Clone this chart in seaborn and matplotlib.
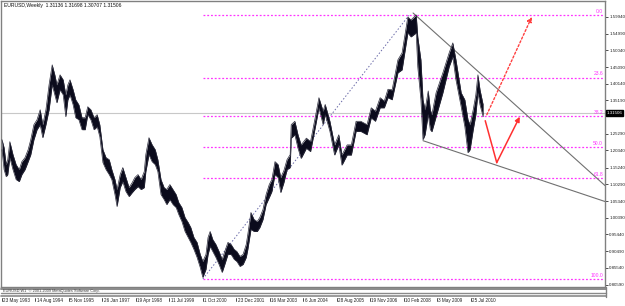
import matplotlib
matplotlib.use("Agg")
import matplotlib.pyplot as plt
import seaborn as sns
import pandas as pd
from matplotlib.lines import Line2D

# ---------------- data ----------------
weeks = [0, 4, 8, 11, 15, 21, 27, 33, 38, 44, 50, 55, 61, 67, 73, 78, 84, 90, 96, 101,
         105, 111, 117, 122, 126, 130, 136, 141, 147, 153, 159, 164, 170, 176, 182, 187,
         193, 199, 205, 210, 216, 220, 226, 231, 237, 243, 249, 254, 260, 266, 272, 275,
         281, 287, 293, 298, 304, 310, 315, 321, 327, 333, 338, 344, 350, 356, 361, 367,
         373, 379, 384, 390, 394, 398, 403, 409, 415, 421, 426, 432, 438, 444, 449, 455,
         461, 467, 470, 476, 482, 488, 493, 499, 505, 511, 516, 522, 528, 533, 539, 545,
         551, 553, 560, 566, 572, 582, 590, 600, 606, 614, 618, 627, 636, 644, 650, 660,
         668, 677, 686, 698, 706, 714, 723, 731, 738, 746, 757, 765, 776, 782, 792, 795,
         801, 805, 809, 815, 819, 822, 830, 843, 855, 862, 868, 878, 885, 891, 895, 901,
         906, 910, 914, 920]
high = [1.2355, 1.2118, 1.1615, 1.1763, 1.2296, 1.1911, 1.1615, 1.1467, 1.1704, 1.1822,
        1.2059, 1.2355, 1.2799, 1.2947, 1.3242, 1.2799, 1.3242, 1.3982, 1.4574, 1.4278,
        1.3982, 1.4278, 1.4130, 1.3686, 1.3982, 1.4130, 1.3834, 1.3538, 1.3390, 1.3006,
        1.3006, 1.3331, 1.3242, 1.3006, 1.3095, 1.2799, 1.2059, 1.1822, 1.1763, 1.1467,
        1.1172, 1.0876, 1.1320, 1.1527, 1.1231, 1.0935, 1.1083, 1.1231, 1.1320, 1.1172,
        1.1408, 1.1911, 1.2414, 1.2207, 1.2059, 1.1763, 1.1172, 1.0935, 1.0876, 1.1024,
        1.0876, 1.0728, 1.0491, 1.0343, 1.0047, 0.9899, 0.9751, 0.9456, 0.9308, 0.8953,
        0.8745, 0.8953, 0.9456, 0.9633, 0.9396, 0.9249, 0.9041, 0.8805, 0.9041, 0.9308,
        0.9249, 0.9101, 0.9041, 0.8893, 0.8953, 0.9249, 0.9544, 1.0195, 0.9988, 0.9929,
        1.0047, 1.0284, 1.0728, 1.1024, 1.1172, 1.1704, 1.1615, 1.1231, 1.1437, 1.1763,
        1.1911, 1.2800, 1.2900, 1.2500, 1.2200, 1.2400, 1.2300, 1.3100, 1.3600, 1.3200,
        1.3400, 1.2900, 1.2200, 1.2500, 1.1900, 1.2200, 1.2200, 1.2900, 1.2900, 1.2800,
        1.3300, 1.3200, 1.3600, 1.3500, 1.3850, 1.3834, 1.4722, 1.4929, 1.5994, 1.5905,
        1.6053, 1.5402, 1.4722, 1.3538, 1.3242, 1.3800, 1.3242, 1.3095, 1.3745, 1.4337,
        1.4929, 1.5225, 1.4722, 1.3745, 1.3538, 1.2947, 1.2799, 1.3242, 1.3686, 1.4278,
        1.3834, 1.3390]
low = [1.2059, 1.1467, 1.1260, 1.1320, 1.1822, 1.1467, 1.1172, 1.1112, 1.1320, 1.1467,
       1.1704, 1.1911, 1.2355, 1.2651, 1.2799, 1.2414, 1.2799, 1.3242, 1.3982, 1.3686,
       1.3450, 1.3834, 1.3686, 1.3035, 1.3538, 1.3686, 1.3390, 1.3006, 1.2947, 1.2651,
       1.2651, 1.3095, 1.2947, 1.2651, 1.2740, 1.2444, 1.1674, 1.1467, 1.1320, 1.1172,
       1.0728, 1.0373, 1.0935, 1.1112, 1.0816, 1.0669, 1.0787, 1.0876, 1.0964, 1.0876,
       1.0935, 1.1408, 1.1911, 1.1704, 1.1615, 1.1408, 1.0728, 1.0580, 1.0432, 1.0580,
       1.0432, 1.0343, 1.0136, 0.9929, 0.9633, 0.9456, 0.9308, 0.9101, 0.8864, 0.8568,
       0.8272, 0.8509, 0.8953, 0.9189, 0.9041, 0.8864, 0.8657, 0.8420, 0.8657, 0.8953,
       0.8953, 0.8805, 0.8745, 0.8597, 0.8657, 0.8864, 0.9101, 0.9692, 0.9633, 0.9633,
       0.9751, 0.9988, 1.0432, 1.0639, 1.0816, 1.1320, 1.1231, 1.0787, 1.1083, 1.1467,
       1.1527, 1.2400, 1.2500, 1.2100, 1.1800, 1.2100, 1.2000, 1.2800, 1.3300, 1.2800,
       1.3100, 1.2600, 1.1900, 1.2200, 1.1600, 1.1900, 1.1900, 1.2600, 1.2600, 1.2500,
       1.3000, 1.2900, 1.3300, 1.3300, 1.3600, 1.3538, 1.4337, 1.4426, 1.5521, 1.5402,
       1.5521, 1.4515, 1.3538, 1.2355, 1.2503, 1.3100, 1.2651, 1.2592, 1.3035, 1.3745,
       1.4515, 1.4811, 1.4130, 1.3331, 1.2740, 1.1970, 1.2059, 1.2651, 1.3095, 1.3745,
       1.3390, 1.3035]

date_labels = ["23 May 1993", "14 Aug 1994", "5 Nov 1995", "26 Jan 1997", "19 Apr 1998",
               "11 Jul 1999", "1 Oct 2000", "23 Dec 2001", "16 Mar 2003", "6 Jun 2004",
               "28 Aug 2005", "19 Nov 2006", "10 Feb 2008", "3 May 2009", "25 Jul 2010"]
date_weeks = [0, 64, 128, 192, 256, 320, 384, 448, 512, 576, 640, 704, 768, 832, 896]

price_ticks = [1.59940, 1.54990, 1.50040, 1.45090, 1.40140, 1.35190, 1.25290, 1.20340,
               1.15240, 1.10290, 1.05340, 1.00390, 0.95440, 0.90490, 0.85540, 0.80590]
price_tick_labels = ["1.59940", "1.54990", "1.50040", "1.45090", "1.40140", "1.35190",
                     "1.25290", "1.20340", "1.15240", "1.10290", "1.05340", "1.00390",
                     "0.95440", "0.90490", "0.85540", "0.80590"]
last_price = 1.31506
title_text = "EURUSD,Weekly  1.31136 1.31698 1.30707 1.31506"

fib_levels = [0.0, 23.6, 38.2, 50.0, 61.8, 100.0]
fib_high, fib_low = 1.6038, 0.8225
fib_low_week, fib_high_week = 384, 778

upper_line_weeks, upper_line_prices = [786, 1153], [1.6112, 1.0994]
lower_line_weeks, lower_line_prices = [805, 1153], [1.2325, 1.0521]
red_solid_weeks, red_solid_prices = [924, 946, 990], [1.2917, 1.1674, 1.3035]
red_dot_weeks, red_dot_prices = [927, 1013], [1.3095, 1.5994]

# ---------------- figure ----------------
sns.set_style("white")
plt.rcParams['font.family'] = ['Liberation Sans', 'DejaVu Sans']
W, H = 625, 306
fig = plt.figure(figsize=(W / 100, H / 100), dpi=100)
fig.patch.set_facecolor("white")

def fx(px):
    return px / W

def fy(py):
    return 1 - py / H

ax = fig.add_axes([fx(1), fy(287), fx(604), 286 / H])
ax.set_facecolor("white")

df = pd.DataFrame({"week": weeks, "high": high, "low": low})
bar_col = "#0b0b1c"
ax.fill_between(df["week"], df["low"], df["high"], color=bar_col, lw=0, zorder=3)
sns.lineplot(data=df, x="week", y="high", ax=ax, color="#2a2a3a", lw=0.5, zorder=3)
sns.lineplot(data=df, x="week", y="low", ax=ax, color="#2a2a3a", lw=0.5, zorder=3)

ax.set_xlim(-1.9, 1153)
ax.set_ylim(0.7986, 1.6467)

# current price line
ax.axhline(last_price, color="#c8c8c8", lw=0.8, zorder=1)

# fibonacci levels
mag = "#ff33ff"
for lv in fib_levels:
    p = fib_high - lv / 100 * (fib_high - fib_low)
    ax.plot([fib_low_week, 1149], [p, p], color=mag, lw=0.9, ls=(0, (1.5, 1.5)), zorder=2)
    ax.text(1149, p + 0.004, f"{lv:.1f}", color=mag, fontsize=3.6, ha="right", va="bottom",
            zorder=4)
ax.plot([fib_low_week, fib_high_week], [fib_low, fib_high], color="#6a6aa8", lw=0.7,
        ls=(0, (1.5, 2)), zorder=2)

# trend lines
ax.plot(upper_line_weeks, upper_line_prices, color="#707070", lw=0.8, zorder=2)
ax.plot(lower_line_weeks, lower_line_prices, color="#707070", lw=0.8, zorder=2)

# red arrows
ax.plot(red_solid_weeks[:2], red_solid_prices[:2], color="#ff3030", lw=1.1, zorder=4)
ax.annotate("", xy=(red_solid_weeks[2], red_solid_prices[2]),
            xytext=(red_solid_weeks[1], red_solid_prices[1]),
            arrowprops=dict(arrowstyle="-|>", color="#ff3030", lw=1.1,
                            mutation_scale=7, shrinkA=0, shrinkB=0), zorder=4)
ax.annotate("", xy=(red_dot_weeks[1], red_dot_prices[1]),
            xytext=(red_dot_weeks[0], red_dot_prices[0]),
            arrowprops=dict(arrowstyle="-|>", color="#ff4040", lw=1.0, ls=(0, (1.5, 1.5)),
                            mutation_scale=7, shrinkA=0, shrinkB=0), zorder=4)

# spines / axes
for s in ax.spines.values():
    s.set_color("#808080")
    s.set_linewidth(1.0)
ax.set_xlabel("")
ax.set_ylabel("")
ax.yaxis.tick_right()
ax.set_yticks(price_ticks)
ax.set_yticklabels(price_tick_labels)
ax.tick_params(axis="y", direction="out", length=2.0, width=0.6, color="#303030",
               pad=1.0, labelsize=3.2, labelcolor="#202020")
ax.set_xticks([])

ax.text(1.0025, last_price, "1.31506", transform=ax.get_yaxis_transform(),
        fontsize=3.2, color="white", ha="left", va="center", zorder=6,
        bbox=dict(boxstyle="square,pad=0.2", fc="#000000", ec="#000000"))

# title
fig.text(fx(4), fy(6), title_text, fontsize=3.6, color="#101010", ha="left", va="center")

# bottom strip
for py, lw in [(289.0, 1.4), (292.5, 1.0), (295.5, 1.2)]:
    fig.add_artist(Line2D([fx(1), fx(606)], [fy(py), fy(py)], color="#8a8a8a", lw=lw))
fig.add_artist(Line2D([fx(605.5), fx(605.5)], [fy(287), fy(297)], color="#808080", lw=1.0))
fig.text(fx(3), fy(291), "EURUSD,W1  \u00a9 2001-2009 MetaQuotes Software Corp.",
         fontsize=2.8, color="#404040", ha="left", va="center")

# date labels
trans = ax.get_xaxis_transform()
for w, lab in zip(date_weeks, date_labels):
    ax.plot([w, w], [-0.037, -0.05], transform=trans, color="#303030", lw=0.6,
            clip_on=False)
    ax.text(w + 2.5, -0.047, lab, transform=trans, fontsize=3.3, color="#202020",
            ha="left", va="center", clip_on=False)

fig.savefig("out.png", dpi=100, facecolor="white")
